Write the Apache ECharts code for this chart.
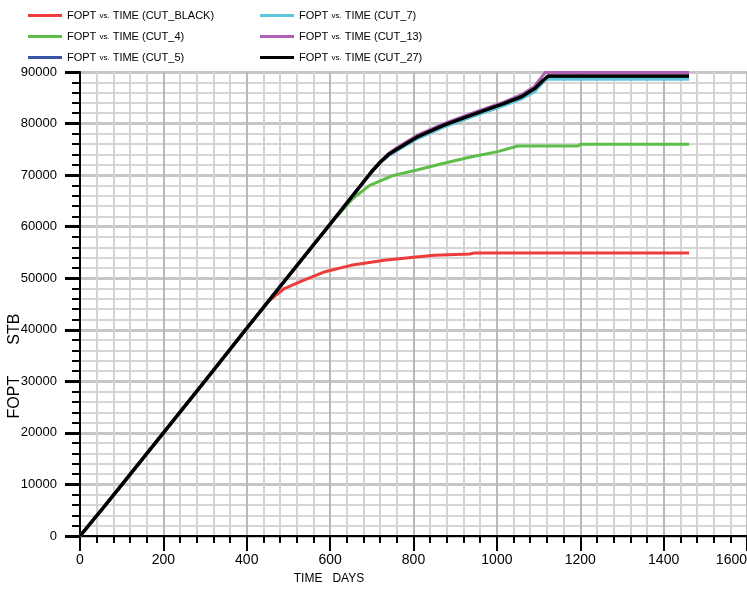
<!DOCTYPE html>
<html>
<head>
<meta charset="utf-8">
<script src="https://cdn.jsdelivr.net/npm/echarts@6/dist/echarts.min.js"></script>
<style>
html,body{margin:0;padding:0;background:#fff;}
#c{width:747px;height:597px;}
</style>
</head>
<body>
<div id="c"></div>
<script>
// ---- data ----
const seriesNames = [
  'FOPT vs. TIME (CUT_BLACK)',
  'FOPT vs. TIME (CUT_4)',
  'FOPT vs. TIME (CUT_5)',
  'FOPT vs. TIME (CUT_7)',
  'FOPT vs. TIME (CUT_13)',
  'FOPT vs. TIME (CUT_27)'
];
const seriesColors = ['#ee3b3b', '#5dbd47', '#3b55a6', '#5cc6dc', '#b060b4', '#000000'];

const cutBlackDays = [0, 50, 100, 200, 300, 400, 455, 490, 530, 585, 650, 730, 800, 850, 935, 945, 1461];
const cutBlackFopt = [0, 4900, 9900, 20000, 30100, 40300, 45700, 48000, 49400, 51200, 52500, 53500, 54050, 54450, 54700, 54900, 54900];

const cut4Days = [0, 50, 100, 200, 300, 400, 500, 600, 620, 655, 695, 750, 808, 873, 937, 1002, 1050, 1195, 1200, 1461];
const cut4Fopt = [0, 4900, 9900, 20000, 30100, 40300, 50400, 60500, 62300, 65500, 68000, 69900, 71000, 72300, 73500, 74550, 75650, 75650, 76000, 76000];

const cut5Days = [0, 50, 100, 200, 300, 400, 500, 600, 700, 720, 740, 760, 808, 873, 937, 1018, 1059, 1091, 1108, 1118, 1461];
const cut5Fopt = [0, 4900, 9900, 20000, 30100, 40300, 50400, 60500, 70700, 72400, 73800, 74800, 77100, 79400, 81300, 83600, 84900, 86400, 87800, 88800, 88800];

const cut7Days = [0, 50, 100, 200, 300, 400, 500, 600, 700, 720, 740, 760, 808, 873, 937, 1018, 1059, 1091, 1105, 1115, 1461];
const cut7Fopt = [0, 4900, 9900, 20000, 30100, 40300, 50400, 60500, 70700, 72400, 73800, 74800, 77050, 79350, 81250, 83550, 84800, 86200, 87500, 88600, 88600];

const cut13Days = [0, 50, 100, 200, 300, 400, 500, 600, 700, 720, 740, 760, 808, 873, 937, 1018, 1059, 1090, 1108, 1116, 1461];
const cut13Fopt = [0, 4900, 9900, 20000, 30100, 40300, 50400, 60500, 70800, 72600, 74200, 75300, 77700, 80000, 81900, 84200, 85600, 87200, 89100, 89900, 89900];

const cut27Days = [0, 50, 100, 200, 300, 400, 500, 600, 700, 720, 740, 760, 808, 873, 937, 1018, 1059, 1091, 1111, 1123, 1461];
const cut27Fopt = [0, 4900, 9900, 20000, 30100, 40300, 50400, 60500, 70700, 72500, 74000, 75000, 77350, 79700, 81600, 83900, 85200, 86800, 88400, 89200, 89200];

const xTickLabels = ['0', '200', '400', '600', '800', '1000', '1200', '1400', '1600'];
const yTickLabels = ['0', '10000', '20000', '30000', '40000', '50000', '60000', '70000', '80000', '90000'];

const allDays = [cutBlackDays, cut4Days, cut5Days, cut7Days, cut13Days, cut27Days];
const allFopt = [cutBlackFopt, cut4Fopt, cut5Fopt, cut7Fopt, cut13Fopt, cut27Fopt];

// ---- chart ----
const FONT = "'Liberation Sans', Arial, sans-serif";
const chart = echarts.init(document.getElementById('c'), null, {renderer: 'canvas'});

const series = seriesNames.map((name, i) => ({
  name: name,
  type: 'line',
  showSymbol: false,
  symbol: 'none',
  data: allDays[i].map((d, k) => [d, allFopt[i][k]]),
  lineStyle: {color: seriesColors[i], width: i === 5 ? 3.5 : 3},
  itemStyle: {color: seriesColors[i]},
  z: 2 + i
}));

const legendCommon = {
  orient: 'vertical',
  top: 8,
  icon: 'rect',
  itemWidth: 34,
  itemHeight: 3,
  itemGap: 6,
  padding: 0,
  formatter: n => n.replace(' vs. ', ' {s|vs.} '),
  textStyle: {
    fontFamily: FONT,
    fontSize: 11,
    color: '#000',
    lineHeight: 15,
    rich: {s: {fontFamily: FONT, fontSize: 8, color: '#000'}}
  }
};

chart.setOption({
  animation: false,
  backgroundColor: '#fff',
  legend: [
    Object.assign({}, legendCommon, {left: 28, data: seriesNames.slice(0, 3)}),
    Object.assign({}, legendCommon, {left: 260, data: seriesNames.slice(3, 6)})
  ],
  grid: {left: 80, right: 0, top: 72, bottom: 61, containLabel: false, outerBoundsMode: 'none'},
  xAxis: {
    type: 'value',
    min: 0,
    max: 1600,
    interval: 200,
    name: 'TIME   DAYS',
    nameLocation: 'middle',
    nameGap: 37,
    nameMoveOverlap: false,
    nameTextStyle: {fontFamily: FONT, fontSize: 12, color: '#000', padding: [0, 169, 0, 0]},
    axisLine: {show: true, lineStyle: {color: '#000', width: 2}},
    axisTick: {show: true, length: 15, lineStyle: {color: '#000', width: 2}},
    minorTick: {show: true, splitNumber: 5, length: 7, lineStyle: {color: '#000', width: 2}},
    axisLabel: {
      margin: 17, fontFamily: FONT, fontSize: 14, color: '#000', alignMaxLabel: 'right',
      formatter: v => xTickLabels[Math.round(v / 200)]
    },
    splitLine: {show: true, lineStyle: {color: '#b9b9b9', width: 2}},
    minorSplitLine: {show: true, lineStyle: {color: '#d3d3d3', width: 2}}
  },
  yAxis: {
    type: 'value',
    min: 0,
    max: 90000,
    interval: 10000,
    name: 'FOPT       STB',
    nameLocation: 'middle',
    nameGap: 57,
    nameRotate: 90,
    nameMoveOverlap: false,
    nameTextStyle: {fontFamily: FONT, fontSize: 16, color: '#000', padding: [0, 124, 0, 0]},
    axisLine: {show: true, lineStyle: {color: '#000', width: 2}},
    axisTick: {show: true, length: 15, lineStyle: {color: '#000', width: 3}},
    minorTick: {show: true, splitNumber: 5, length: 8, lineStyle: {color: '#000', width: 2}},
    axisLabel: {
      margin: 23, fontFamily: FONT, fontSize: 13, color: '#000',
      formatter: v => yTickLabels[Math.round(v / 10000)]
    },
    splitLine: {show: true, lineStyle: {color: '#c6c6c6', width: 3}},
    minorSplitLine: {show: true, lineStyle: {color: '#d6d6d6', width: 2}}
  },
  series: series
});
</script>
</body>
</html>
